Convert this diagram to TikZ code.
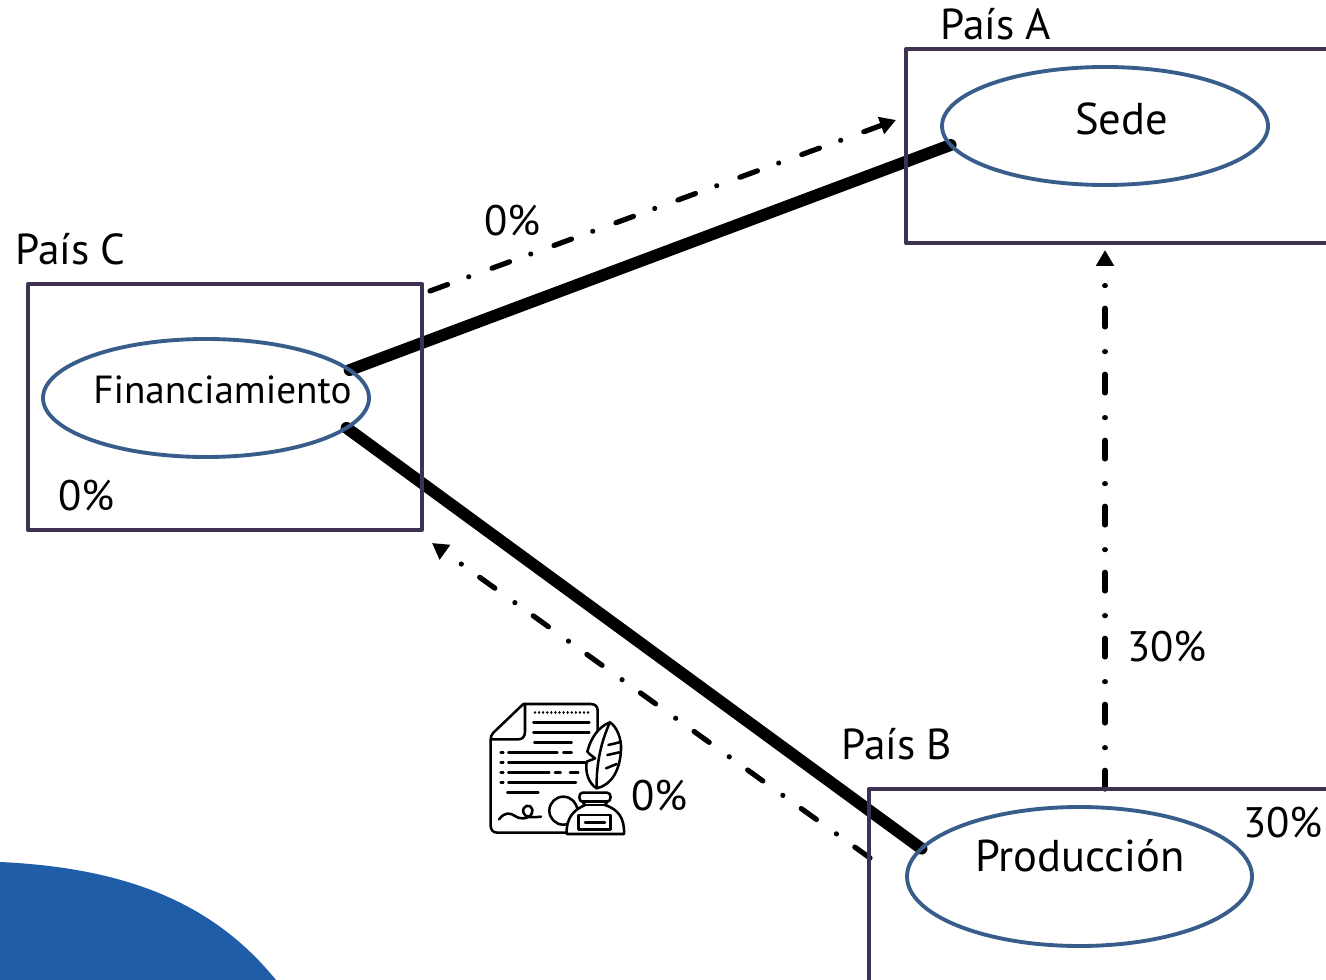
\documentclass[tikz,border=0pt]{standalone}
\usepackage{fontspec}
\setmainfont{PT Sans}
\usetikzlibrary{shapes.geometric,arrows.meta,backgrounds}
\definecolor{boxc}{HTML}{3F3151}
\definecolor{ellc}{HTML}{385D8A}
\definecolor{blobc}{HTML}{1F5DA8}
\tikzset{
  px/.style={x=0.75pt,y=-0.75pt},
  areabox/.style={draw=boxc,line width=3pt,rectangle,inner sep=0pt,outer sep=0pt,anchor=north west,line join=round},
  fnellipse/.style={draw=ellc,line width=2.9pt,ellipse,inner sep=0pt,outer sep=0pt},
  heavy/.style={line width=8.9pt,line cap=round,black},
  flow/.style={line width=3.9pt,line cap=round,black,dash pattern=on 14pt off 17pt on 0.01pt off 18.5pt,-{Triangle[length=12pt,width=13pt]}},
  mid/.style={font=\fontsize{32.5pt}{35pt}\selectfont,anchor=base west,inner sep=0pt},
  prc/.style={font=\fontsize{32pt}{35pt}\selectfont,anchor=base west,inner sep=0pt},
  lrg/.style={font=\fontsize{33.4pt}{36pt}\selectfont,anchor=base west,inner sep=0pt},
  fin/.style={font=\fontsize{29.4pt}{32pt}\selectfont,anchor=base west,inner sep=0pt},
  ico/.style={line width=1.9pt,line cap=round,line join=round,black},
}
\begin{document}
\begin{tikzpicture}[px]
\useasboundingbox (0,0) rectangle (1326,980);
\clip (0,0) rectangle (1326,980);
% blue corner
\fill[blobc] (0,862) .. controls (130,868) and (215,905) .. (276,980) -- (0,980) -- cycle;
% boxes
\node[areabox,minimum width=470*0.75pt,minimum height=194*0.75pt] (boxA) at (906,49) {};
\node[areabox,minimum width=394*0.75pt,minimum height=246*0.75pt] (boxC) at (28,284) {};
\node[areabox,minimum width=507*0.75pt,minimum height=260*0.75pt] (boxB) at (869,789) {};
% ellipses
\node[fnellipse,minimum width=326*0.75pt,minimum height=118*0.75pt] (sede) at (1105,126) {};
\node[fnellipse,minimum width=326*0.75pt,minimum height=118*0.75pt] (fina) at (206,398) {};
\node[fnellipse,minimum width=345*0.75pt,minimum height=139*0.75pt] (prod) at (1079.5,876.5) {};
% connectors
\begin{pgfonlayer}{background}
\draw[heavy] (fina.11) -- (sede.187);
\draw[heavy] (fina.-12) -- (prod.170);
\coordinate (cOut) at ([shift={(8,7)}]boxC.north east);
\coordinate (aIn) at ([shift={(-10,71)}]boxA.north west);
\coordinate (bUp) at ([shift={(236,0)}]boxB.north west);
\coordinate (aDown) at ([shift={(199,7)}]boxA.south west);
\coordinate (bOut) at ([shift={(1,69)}]boxB.north west);
\coordinate (cIn) at ([shift={(10,13)}]boxC.south east);
\draw[flow] (cOut) -- (aIn);
\draw[flow] (bUp) -- (aDown);
\draw[flow] (bOut) -- (cIn);
\end{pgfonlayer}
% texts
\node[mid] (tA) at (940,40) {País A};
\node[mid] (tC) at (15,265) {País C};
\node[mid] (tB) at (841,759) {País B};
\node[lrg] (tSede) at (1075,135) {Sede};
\node[fin] (tFin) at (93,403) {Financiamiento};
\node[lrg] (tProd) at (975,871) {Producción};
\node[prc] (p1) at (484,236) {0\%};
\node[prc] (p2) at (58,510) {0\%};
\node[prc] (p3) at (1127,661) {30\%};
\node[prc] (p4) at (1243,837) {30\%};
\node[prc] (p5) at (631,810) {0\%};
% document icon
\begin{scope}[shift={(470,690)},x=0.25pt,y=-0.25pt]
 \draw[ico] (160,42) -- (362,42) .. controls (376,42) and (383,50) .. (383,62) -- (383,125);
 \draw[ico] (160,42) -- (70,128) .. controls (64,134) and (62,140) .. (62,150) -- (62,408) .. controls (62,420) and (70,428) .. (82,428) -- (290,428);
 \draw[ico] (165,45) -- (165,125) .. controls (165,140) and (157,148) .. (145,148) -- (62,148);
 \draw[ico,dash pattern=on 0.01pt off 3.05pt] (195,68) -- (358,68);
 \foreach \yy/\xa/\xb in {98/190/358,128/190/358,158/193/305,188/115/262,188/280/305,218/115/345,248/115/238,248/255/272,248/300/325,278/115/318,308/112/205}
   \draw[ico] (\xa,\yy) -- (\xb,\yy);
 \foreach \yy in {188,218,248,278} \draw[ico] (92,\yy) -- (100,\yy);
 \draw[ico] (87,388) .. controls (105,365) and (120,368) .. (135,378) .. controls (155,392) and (190,385) .. (187,358) .. controls (183,340) and (155,345) .. (160,368) .. controls (165,385) and (190,382) .. (213,380);
 \draw[ico,fill=white] (280,362) circle (42);
 \draw[ico,fill=white] (290,432) .. controls (288,385) and (310,360) .. (345,345) -- (337,335) .. controls (325,335) and (325,308) .. (337,308) -- (412,308) .. controls (425,308) and (425,335) .. (412,335) -- (405,345) .. controls (445,358) and (464,385) .. (462,432) -- cycle;
 \draw[ico] (337,335) -- (412,335);
 \draw[ico] (345,345) -- (405,345);
 \draw[ico] (325,375) rectangle (422,418);
 \draw[ico] (345,397) -- (405,397);
 \draw[ico,fill=white] (420,97) .. controls (385,110) and (362,145) .. (352,185) .. controls (360,195) and (370,200) .. (375,205) .. controls (365,210) and (355,212) .. (350,215) .. controls (345,245) and (355,280) .. (380,295) .. controls (425,285) and (450,240) .. (453,180) .. controls (455,145) and (440,110) .. (420,97) -- cycle;
 \draw[ico] (420,97) .. controls (395,150) and (378,220) .. (380,295);
 \draw[ico] (415,165) -- (448,157);
 \draw[ico] (412,195) -- (448,187);
 \draw[ico] (408,235) -- (440,222);
\end{scope}
\end{tikzpicture}
\end{document}
